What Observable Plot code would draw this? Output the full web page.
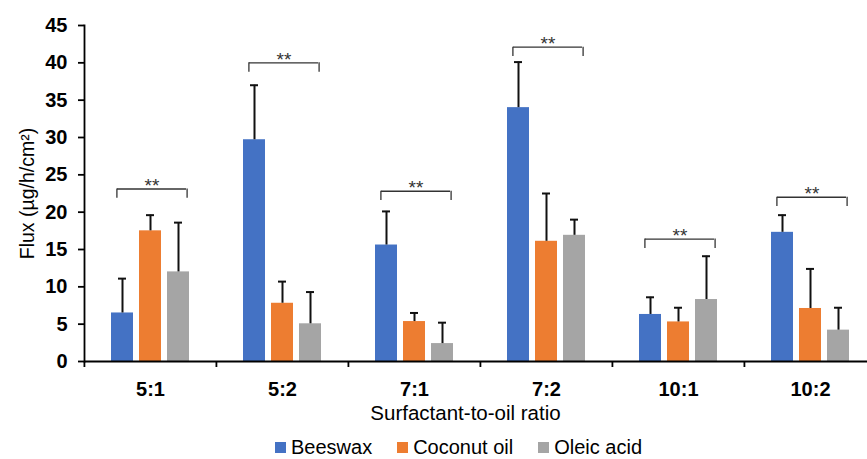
<!DOCTYPE html>
<html>
<head>
<meta charset="utf-8">
<script src="https://cdn.jsdelivr.net/npm/d3@7"></script>
<script src="https://cdn.jsdelivr.net/npm/@observablehq/plot@0.6"></script>
<style>
  body { margin: 0; background: #fff; width: 867px; height: 459px; overflow: hidden;
         font-family: "Liberation Sans", Arial, sans-serif; }
  #legend { display: flex; align-items: center; height: 24px; padding-left: 275px; gap: 25px;
            font-size: 20px; color: #000; }
  #legend .item { display: flex; align-items: center; }
  #legend .sw { width: 11px; height: 11px; margin-right: 5px; }
</style>
</head>
<body>
<div id="chart"></div>
<div id="legend"></div>
<script>
// Surfactant-to-oil ratios (one group of bars each)
const categories = ["5:1", "5:2", "7:1", "7:2", "10:1", "10:2"];
const series = ["Beeswax", "Coconut oil", "Oleic acid"];
const colors = ["#4472C4", "#ED7D31", "#A5A5A5"];

// Mean flux (µg/h/cm²) and standard deviation per oil
const beeswax     = [6.5, 29.7, 15.6, 34.0, 6.3, 17.3];
const beeswaxSD   = [4.6, 7.3, 4.5, 6.1, 2.3, 2.3];
const coconut     = [17.5, 7.8, 5.35, 16.1, 5.3, 7.1];
const coconutSD   = [2.1, 2.9, 1.15, 6.4, 1.9, 5.3];
const oleic       = [12.0, 5.05, 2.4, 16.9, 8.3, 4.2];
const oleicSD     = [6.6, 4.25, 2.8, 2.1, 5.8, 3.0];

// Height of the significance bracket above each group
const bracketLevel = [23.1, 40.0, 22.8, 42.1, 16.4, 22.0];
const yTicks = [0, 5, 10, 15, 20, 25, 30, 35, 40, 45];

const means = [beeswax, coconut, oleic];
const sds = [beeswaxSD, coconutSD, oleicSD];
const rows = categories.flatMap((ratio, i) =>
  series.map((s, j) => ({ratio, series: s, value: means[j][i], sd: sds[j][i]})));
const brackets = categories.map((ratio, i) => ({ratio, level: bracketLevel[i]}));

const W = 867, H = 435, ML = 83, MR = -9, MT = 25, MB = 74;
const halfBand = (W - ML - MR) / categories.length / 2;
const font = "'Liberation Sans', Arial, sans-serif";
const tip = 1.25;

const chart = Plot.plot({
  width: W, height: H,
  marginLeft: ML, marginRight: MR, marginTop: MT, marginBottom: MB,
  style: {fontFamily: font, color: "#000", background: "#fff"},
  fx: {domain: categories, padding: 0, label: null},
  x: {domain: series, paddingInner: 0.207, paddingOuter: 0.88, axis: null},
  y: {domain: [0, 45], label: null},
  color: {domain: series, range: colors},
  marks: [
    Plot.barY(rows, {fx: "ratio", x: "series", y: "value", fill: "series"}),
    // error bars
    Plot.ruleX(rows, {fx: "ratio", x: "series", y1: "value", y2: d => d.value + d.sd,
                      stroke: "#111", strokeWidth: 2}),
    Plot.tickY(rows, {fx: "ratio", x: "series", y: d => d.value + d.sd,
                      insetLeft: 7, insetRight: 7, stroke: "#111", strokeWidth: 2}),
    // significance brackets
    Plot.ruleY(brackets, {fx: "ratio", x1: () => series[0], x2: () => series[2], y: "level",
                          insetLeft: 6, insetRight: 3, stroke: "#333", strokeWidth: 1.3}),
    Plot.ruleX(brackets, {fx: "ratio", x: () => series[0], y1: "level", y2: d => d.level - tip,
                          dx: -5.6, stroke: "#333", strokeWidth: 1.3}),
    Plot.ruleX(brackets, {fx: "ratio", x: () => series[2], y1: "level", y2: d => d.level - tip,
                          dx: 8.6, stroke: "#333", strokeWidth: 1.3}),
    Plot.text(brackets, {fx: "ratio", x: () => series[1], y: "level", text: () => "**",
                         dx: 1.5, dy: -3, fontSize: 19, fill: "#333"}),
    // axes
    Plot.ruleY([0], {stroke: "#000", strokeWidth: 1.8}),
    Plot.frame({anchor: "left", facet: "super", stroke: "#000", strokeWidth: 1.8}),
    Plot.axisY({ticks: yTicks, tickSize: 6, tickPadding: 11, fontSize: 20, fontWeight: "bold",
                strokeWidth: 1.8, label: null}),
    Plot.axisFx({anchor: "bottom", tickSize: 6, dx: -halfBand, tickFormat: () => "",
                 strokeWidth: 1.8, label: null}),
    Plot.axisFx({anchor: "bottom", tickSize: 0, tickPadding: 20, fontSize: 20, fontWeight: "bold",
                 label: null}),
    // axis titles
    Plot.text(["Surfactant-to-oil ratio"], {frameAnchor: "bottom", facet: "super",
                 dx: -15, dy: 58, fontSize: 20.5}),
    Plot.text(["Flux (µg/h/cm²)"], {frameAnchor: "left", facet: "super", rotate: -90,
                 textAnchor: "middle", dx: -57, fontSize: 19.5})
  ]
});
document.getElementById("chart").appendChild(chart);

const legend = d3.select("#legend");
series.forEach((s, i) => {
  const item = legend.append("div").attr("class", "item");
  item.append("div").attr("class", "sw").style("background", colors[i]);
  item.append("span").text(s);
});
</script>
</body>
</html>
